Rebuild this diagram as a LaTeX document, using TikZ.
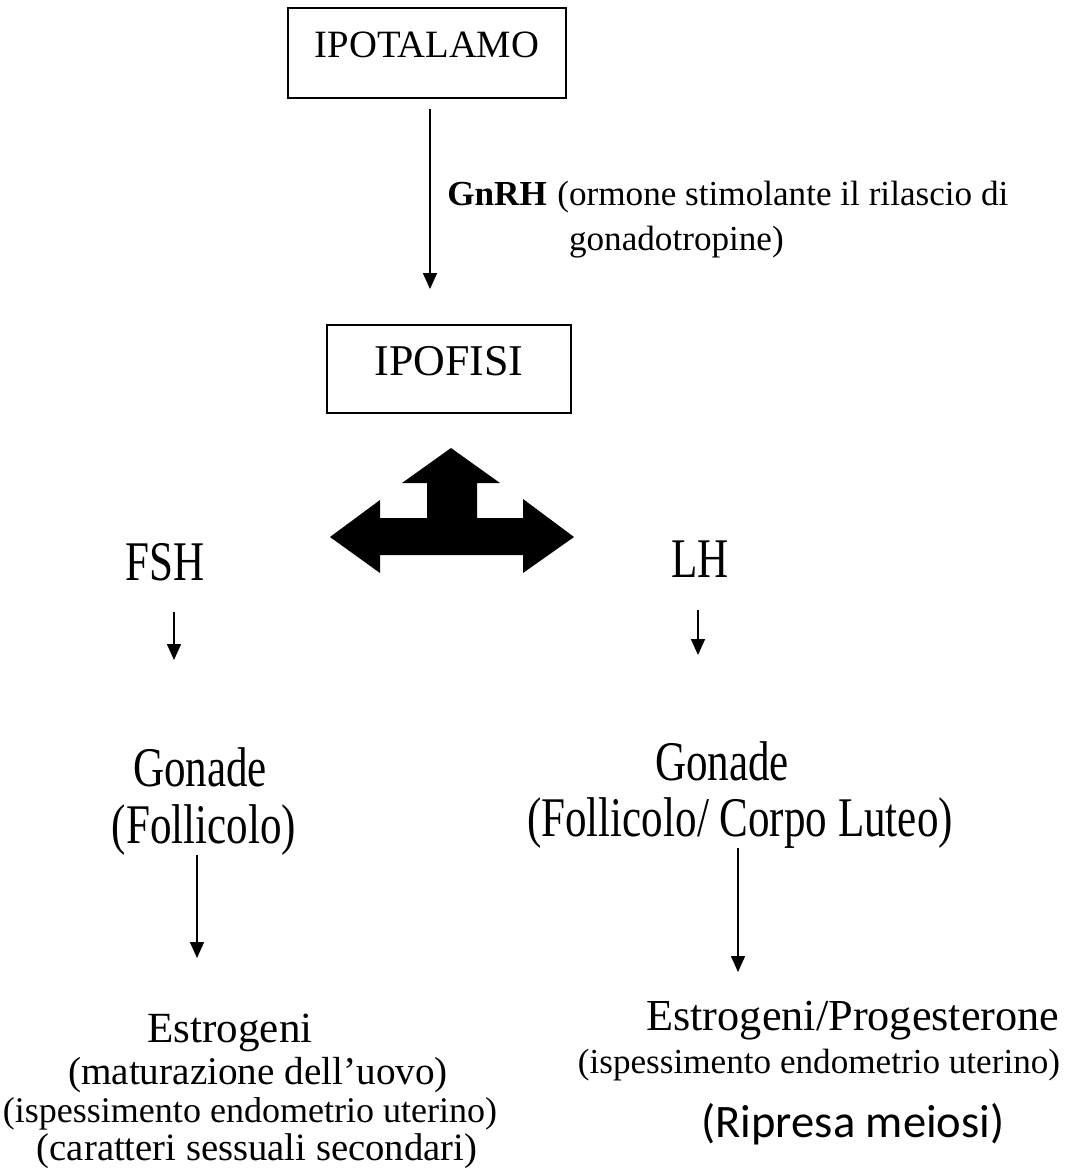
\documentclass[tikz,border=0pt]{standalone}
\usepackage{fontspec}
\setmainfont{Liberation Serif}
\newfontfamily\calibrifont{Carlito}
\usetikzlibrary{arrows.meta,calc}
\newcommand{\tall}[1]{\scalebox{1}[1.3]{#1}}

\begin{document}
\begin{tikzpicture}[
  box/.style={draw,line width=1.1pt,inner xsep=0pt,inner ysep=0pt},
  lbl/.style={anchor=base,inner sep=0pt},
  arr/.style={-{Triangle[length=3.2mm,width=2.8mm]},line width=0.9pt}
]
\useasboundingbox (0,0) rectangle (21.64,-23.46);

% ---------- top: hypothalamus -> pituitary
\node[box,anchor=base,font=\fontsize{22}{26}\selectfont,minimum width=5.56cm,text height=0.98cm,text depth=0.82cm] (ipot) at (8.54,-1.14) {IPOTALAMO\hspace{0.32cm}};
\node[box,anchor=base,font=\fontsize{25}{29}\selectfont,minimum width=4.88cm,text height=1.0cm,text depth=0.76cm] (ipof) at (8.98,-7.5) {IPOFISI};
\coordinate (axis) at (8.6,0);
\draw[arr,shorten <=0.2cm,shorten >=0.7cm] (ipot.south -| axis) -- (ipof.north -| axis);
\node[lbl,anchor=base west,font=\bfseries\fontsize{20}{24}\selectfont] (gnrh) at (8.94,-4.1) {GnRH};
\node[lbl,anchor=base west,font=\fontsize{20}{24}\selectfont] (gnrhA) at (11.14,-4.1) {(ormone stimolante il rilascio di};
\node[lbl,anchor=base west,font=\fontsize{20}{24}\selectfont] (gnrhB) at (11.14,-5.0) {\phantom{(}gonadotropine)};

% ---------- three-way block arrow
\fill (9.02,-8.96) -- (10,-9.66) -- (9.54,-9.66) -- (9.54,-10.36) -- (10.46,-10.36) -- (10.46,-9.98)
  -- (11.48,-10.74) -- (10.46,-11.46) -- (10.46,-11.1) -- (7.6,-11.1) -- (7.6,-11.46) -- (6.6,-10.74)
  -- (7.6,-10.0) -- (7.6,-10.36) -- (8.54,-10.36) -- (8.54,-9.66) -- (8.04,-9.66) -- cycle;

% ---------- left branch: FSH
\node[lbl,font=\fontsize{24.5}{28}\selectfont] (fsh) at (3.3,-11.6) {\tall{FSH}};
\coordinate (fshA) at (3.48,-12.24);
\coordinate (fshB) at (3.48,-13.2);
\draw[arr] (fshA) -- (fshB);
\node[lbl,font=\fontsize{24.5}{28}\selectfont] (gonL) at (4.0,-15.72) {\tall{Gonade}};
\node[lbl,font=\fontsize{24.5}{28}\selectfont] (follL) at (4.08,-16.86) {\tall{(Follicolo)}};
\coordinate (gonLA) at (3.94,-17.1);
\coordinate (gonLB) at (3.94,-19.16);
\draw[arr] (gonLA) -- (gonLB);
\node[lbl,font=\fontsize{24.5}{29}\selectfont] (estL) at (4.6,-20.84) {Estrogeni};
\node[lbl,font=\fontsize{22.3}{26}\selectfont] (estL1) at (5.16,-21.68) {(maturazione dell'uovo)};
\node[lbl,font=\fontsize{20.5}{24}\selectfont] (estL2) at (5.0,-22.44) {(ispessimento endometrio uterino)};
\node[lbl,font=\fontsize{22}{26}\selectfont] (estL3) at (5.14,-23.2) {(caratteri sessuali secondari)};

% ---------- right branch: LH
\node[lbl,font=\fontsize{24.5}{28}\selectfont] (lh) at (14.0,-11.54) {\tall{LH}};
\coordinate (lhA) at (13.96,-12.2);
\coordinate (lhB) at (13.96,-13.1);
\draw[arr] (lhA) -- (lhB);
\node[lbl,font=\fontsize{24.5}{28}\selectfont] (gonR) at (14.44,-15.6) {\tall{Gonade}};
\node[lbl,font=\fontsize{24.5}{28}\selectfont] (follR) at (14.8,-16.72) {\tall{(Follicolo/ Corpo Luteo)}};
\coordinate (gonRA) at (14.76,-16.96);
\coordinate (gonRB) at (14.76,-19.44);
\draw[arr] (gonRA) -- (gonRB);
\node[lbl,font=\fontsize{25.2}{30}\selectfont] (estR) at (17.06,-20.6) {Estrogeni/Progesterone};
\node[lbl,font=\fontsize{20}{24}\selectfont] (estR1) at (16.38,-21.46) {(ispessimento endometrio uterino)};
\node[lbl,font=\calibrifont\fontsize{26.5}{30}\selectfont] (meiosi) at (17.06,-22.74) {(Ripresa meiosi)};
\end{tikzpicture}
\end{document}
